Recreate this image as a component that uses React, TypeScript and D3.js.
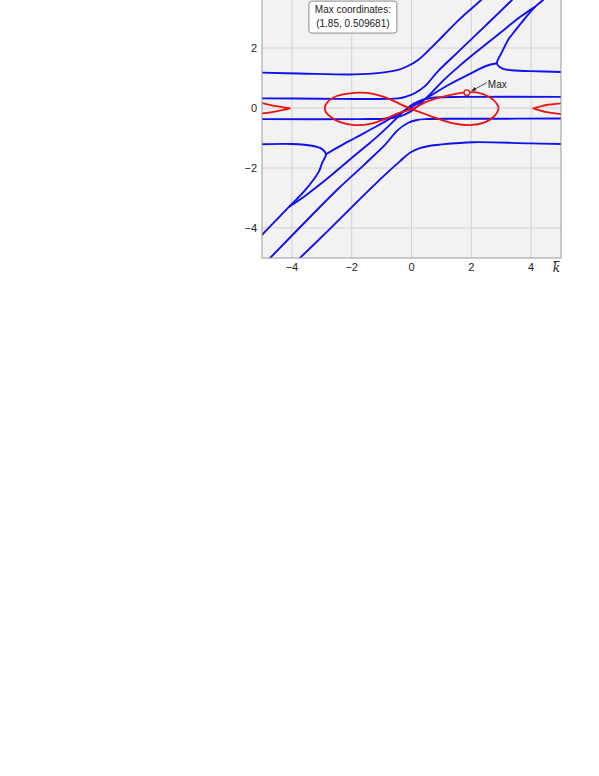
import React from "react";
import * as d3 from "d3";

// ---- data ----
type Pt = [number, number];

const xTicks = [-4, -2, 0, 2, 4];
const yTicks = [-4, -2, 0, 2, 4];
const yTickLabels = [-4, -2, 0, 2];

// blue branches
const branchA: Pt[] = [
  [-5.0, 1.18], [-3.73, 1.15], [-1.89, 1.12], [-1.05, 1.17], [-0.45, 1.27], [-0.12, 1.4],
  [0.22, 1.6], [0.62, 1.97], [1.05, 2.4], [1.62, 2.97], [2.36, 3.63], [3.73, 5.0],
];
const branchA2: Pt[] = [
  [5.03, -1.2], [3.96, -1.18], [2.06, -1.14], [0.95, -1.22], [0.62, -1.26], [0.28, -1.34],
  [-0.05, -1.49], [-0.38, -1.77], [-0.89, -2.23], [-1.72, -3.03], [-2.73, -4.03], [-3.73, -5.0],
];
const branchB: Pt[] = [
  [-5.0, 0.32], [-3.06, 0.31], [-1.56, 0.3], [-0.45, 0.32], [-0.18, 0.38], [0.12, 0.5],
  [0.45, 0.73], [0.89, 1.23], [1.56, 1.87], [2.46, 2.73], [3.36, 3.6], [4.73, 5.0],
];
const branchB2: Pt[] = [
  [5.03, -0.35], [2.29, -0.36], [0.45, -0.37], [0.18, -0.4], [-0.12, -0.5], [-0.45, -0.73],
  [-0.89, -1.23], [-1.56, -1.87], [-2.46, -2.7], [-3.36, -3.6], [-4.73, -5.0],
];
const foldTop: Pt[] = [
  [5.03, 1.2], [3.96, 1.23], [3.46, 1.25], [3.03, 1.32], [2.86, 1.49], [3.03, 1.87],
  [3.23, 2.27], [3.46, 2.57], [3.7, 2.87], [4.13, 3.37], [4.4, 3.6], [5.8, 5.0],
];
const foldBottom: Pt[] = [
  [-5.0, -1.21], [-4.0, -1.2], [-3.33, -1.26], [-2.99, -1.37], [-2.86, -1.54], [-2.99, -1.83],
  [-3.1, -2.12], [-3.55, -2.73], [-4.09, -3.29], [-5.0, -4.23], [-6.07, -5.33],
];
const cuspLink: Pt[] = [
  [2.86, 1.49], [2.49, 1.4], [2.02, 1.17], [1.29, 0.8], [0.62, 0.4], [0.0, 0.03],
  [-0.62, -0.3], [-1.15, -0.6], [-1.89, -1.0], [-2.39, -1.27], [-2.86, -1.54],
];
const shallowTop: Pt[] = [
  [4.13, 3.37], [3.63, 3.03], [2.96, 2.5], [2.12, 1.83], [1.52, 1.33], [1.12, 0.97],
  [0.69, 0.53], [0.28, 0.13], [-0.05, -0.13], [-0.38, -0.28], [-0.79, -0.35], [-1.72, -0.37], [-5.0, -0.37],
];
const shallowBottom: Pt[] = [
  [-4.09, -3.29], [-3.56, -2.93], [-2.96, -2.47], [-2.12, -1.77], [-1.52, -1.27], [-1.12, -0.93],
  [-0.69, -0.53], [-0.28, -0.13], [0.05, 0.13], [0.38, 0.28], [0.79, 0.35], [1.72, 0.37], [5.03, 0.37],
];
const blueCurves = [branchA, branchA2, branchB, branchB2, foldTop, foldBottom, cuspLink, shallowTop, shallowBottom];

// red contour: figure eight plus two edge pieces
const redLoop: Pt[] = [
  [-2.9, 0.0], [-2.85, 0.14], [-2.72, 0.28], [-2.5, 0.4], [-2.06, 0.49], [-1.72, 0.51], [-1.28, 0.47],
  [-0.79, 0.32], [-0.38, 0.13], [0.01, -0.04], [0.45, -0.2], [0.84, -0.34], [1.4, -0.51],
  [1.96, -0.57], [2.45, -0.48], [2.74, -0.3], [2.87, -0.14], [2.91, 0.0], [2.84, 0.16], [2.62, 0.36],
  [2.18, 0.52], [1.82, 0.52], [1.06, 0.38], [0.51, 0.21], [0.01, -0.04], [-0.44, -0.17],
  [-0.83, -0.34], [-1.39, -0.53], [-1.89, -0.57], [-2.39, -0.47], [-2.7, -0.3], [-2.86, -0.14],
];
const redLeft: Pt[] = [
  [-5.74, 0.27], [-5.0, 0.16], [-4.57, 0.07], [-4.23, 0.01], [-4.06, -0.01],
  [-4.23, -0.05], [-4.57, -0.12], [-5.0, -0.18], [-5.74, -0.27],
];
const redRight: Pt[] = [
  [5.8, 0.23], [5.04, 0.16], [4.52, 0.1], [4.23, 0.03], [4.07, -0.01],
  [4.23, -0.06], [4.52, -0.14], [5.04, -0.21], [5.8, -0.3],
];

const maxPoint: Pt = [1.85, 0.509681];
const boxLines = ["Max coordinates:", "(1.85, 0.509681)"];
const boxCenter: Pt = [-1.96, 3.03];

// ---- layout ----
const W = 599;
const H = 776;
const left = 262;
const right = 561;
const top = -42;
const bottom = 258;

const FONT = "'Liberation Sans', Arial, sans-serif";

export default function App() {
  const x = d3.scaleLinear().domain([-5, 5]).range([left, right]);
  const y = d3.scaleLinear().domain([-5, 5]).range([bottom, top]);

  const line = d3
    .line<Pt>()
    .x((d) => x(d[0]))
    .y((d) => y(d[1]))
    .curve(d3.curveCatmullRom.alpha(0.5));
  const closed = d3
    .line<Pt>()
    .x((d) => x(d[0]))
    .y((d) => y(d[1]))
    .curve(d3.curveCatmullRomClosed.alpha(0.5));

  const mx = x(maxPoint[0]);
  const my = y(maxPoint[1]);
  const bx = x(boxCenter[0]);
  const by = y(boxCenter[1]);

  return (
    <svg
      width={W}
      height={H}
      style={{ position: "absolute", left: 0, top: 0, display: "block" }}
    >
      <defs>
        <clipPath id="plot">
          <rect x={left} y={top} width={right - left} height={bottom - top} />
        </clipPath>
        <marker id="head" viewBox="0 0 10 10" refX="9" refY="5" markerWidth="6" markerHeight="6" orient="auto">
          <path d="M0,1 L10,5 L0,9 Z" fill="#222" />
        </marker>
      </defs>

      <rect x={left} y={top} width={right - left} height={bottom - top} fill="#f2f2f2" />

      {xTicks.map((t) => (
        <line key={"gx" + t} x1={x(t)} x2={x(t)} y1={top} y2={bottom} stroke="#d2d2d2" strokeWidth={1} />
      ))}
      {yTicks.map((t) => (
        <line key={"gy" + t} x1={left} x2={right} y1={y(t)} y2={y(t)} stroke="#d2d2d2" strokeWidth={1} />
      ))}

      <g clipPath="url(#plot)" fill="none" strokeLinejoin="round" strokeLinecap="round">
        {blueCurves.map((c, i) => (
          <path key={"b" + i} d={line(c) || ""} stroke="#1010f0" strokeWidth={1.9} />
        ))}
        <path d={closed(redLoop) || ""} stroke="#f01010" strokeWidth={1.8} />
        <path d={line(redLeft) || ""} stroke="#f01010" strokeWidth={1.8} />
        <path d={line(redRight) || ""} stroke="#f01010" strokeWidth={1.8} />
      </g>

      <rect x={left} y={top} width={right - left} height={bottom - top} fill="none" stroke="#9a9a9a" strokeWidth={1} />

      {yTickLabels.map((t) => (
        <text key={"ly" + t} x={left - 5} y={y(t)} dy="0.35em" textAnchor="end" fontFamily={FONT} fontSize={11} fill="#222">
          {t < 0 ? "\u2212" + Math.abs(t) : String(t)}
        </text>
      ))}
      {xTicks.map((t) => (
        <text key={"lx" + t} x={x(t)} y={bottom + 13} textAnchor="middle" fontFamily={FONT} fontSize={11} fill="#222">
          {t < 0 ? "\u2212" + Math.abs(t) : String(t)}
        </text>
      ))}
      <text x={x(4.85)} y={bottom + 14} textAnchor="middle" fontFamily="'DejaVu Serif', 'Liberation Serif', serif" fontStyle="italic" fontSize={12} fill="#222">
        k
      </text>
      <line x1={x(4.85) - 3} x2={x(4.85) + 3} y1={bottom + 3.5} y2={bottom + 3.5} stroke="#222" strokeWidth={0.9} />

      {/* annotation box */}
      <rect x={bx - 44} y={by - 16} width={88} height={32} rx={3} fill="#fff" stroke="#8a8a8a" strokeWidth={1} />
      {boxLines.map((s, i) => (
        <text key={s} x={bx} y={by - 4 + i * 14} textAnchor="middle" fontFamily={FONT} fontSize={10} fill="#222">
          {s}
        </text>
      ))}

      {/* max marker */}
      <line x1={mx + 20} y1={my - 10} x2={mx + 5} y2={my - 2} stroke="#222" strokeWidth={0.8} markerEnd="url(#head)" />
      <text x={mx + 21} y={my - 5} fontFamily={FONT} fontSize={10} fill="#222">Max</text>
      <circle cx={mx} cy={my} r={2.8} fill="#fff" stroke="#f01010" strokeWidth={1.3} />
    </svg>
  );
}
